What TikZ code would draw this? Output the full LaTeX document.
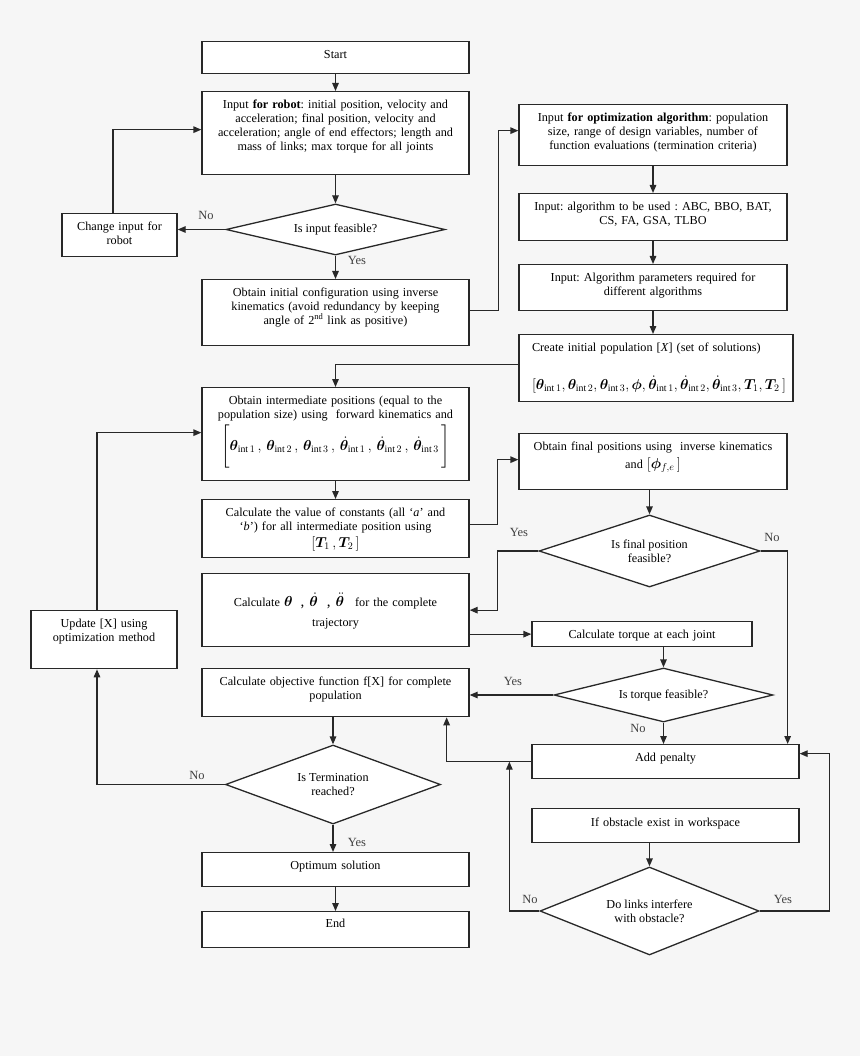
\documentclass[tikz,border=0pt]{standalone}
\usepackage{amsmath}
\usepackage{bm}
\usepackage{fontspec}
\setmainfont{Liberation Serif}
\usetikzlibrary{shapes.geometric,arrows.meta}
\definecolor{bgcol}{RGB}{246,246,246}
\definecolor{linecol}{RGB}{40,40,40}
\newcommand{\thint}[1]{\bm{\theta}_{\mathrm{int}\,#1}}
\newcommand{\dthint}[1]{\dot{\bm{\theta}}_{\mathrm{int}\,#1}}
\newcommand{\mathsz}{\fontsize{14}{16}\selectfont}
\begin{document}
\begin{tikzpicture}[x=1pt,y=-1pt,font={\fontsize{12.2}{13.8}\selectfont\frenchspacing}]
\fill[bgcol] (0,0) rectangle (860,1056);
\useasboundingbox (0,0) rectangle (860,1056);
% boxes
\begin{scope}[every node/.style={draw=linecol, fill=white, line width=1.3pt, align=center, anchor=north, inner xsep=4pt, inner ysep=0pt, text height=17pt}]
\node[text width=259pt, text depth=15pt] (start) at (335.5,41) {Start};
\node[text width=259pt, text depth=66pt] (robot) at (335.5,91) {Input \textbf{for robot}: initial position, velocity and\\ acceleration; final position, velocity and\\ acceleration; angle of end effectors; length and\\ mass of links; max torque for all joints};
\node[text width=107pt, text depth=26pt] (change) at (119.5,213) {Change input for\\ robot};
\node[text width=259pt, text depth=49pt] (initcfg) at (335.5,279) {Obtain initial configuration using inverse\\ kinematics (avoid redundancy by keeping\\ angle of 2\textsuperscript{nd} link as positive)};
\node[text width=260pt, text depth=44pt] (opt) at (653,104) {Input \textbf{for optimization algorithm}: population\\ size, range of design variables, number of\\ function evaluations (termination criteria)};
\node[text width=260pt, text depth=30pt] (algo) at (653,193) {Input: algorithm to be used : ABC, BBO, BAT,\\ CS, FA, GSA, TLBO};
\node[text width=260pt, text depth=29pt] (param) at (653,264) {Input: Algorithm parameters required for\\ different algorithms};
\node[text width=248pt, inner xsep=13pt, align=left, text depth=50pt] (create) at (656,334) {Create initial population [\textit{X}] (set of solutions)\\[21pt] {\mathsz$[\thint1, \thint2, \thint3, \bm{\phi}, \dthint1, \dthint2, \dthint3, \bm{T}_1, \bm{T}_2\,]$}};
\node[text width=259pt, text depth=76pt] (inter) at (335.5,387) {Obtain intermediate positions (equal to the\\ population size) using\ \ forward kinematics and\\[3pt] {\mathsz$\left[\rule[-16pt]{0pt}{38pt}\thint1\,,\, \thint2\,,\, \thint3\,,\, \dthint1\,,\, \dthint2\,,\, \dthint3\,\right]$}};
\node[text width=259pt, text depth=41pt] (const) at (335.5,499) {Calculate the value of constants (all `\textit{a}' and\\ `\textit{b}') for all intermediate position using\\[3pt] {\mathsz$[\bm{T}_1\,, \bm{T}_2\,]$}};
\node[text width=259pt, text height=33pt, text depth=40pt] (theta) at (335.5,573) {Calculate\ {\fontsize{15}{17}\selectfont$\bm{\theta}$\hspace{8pt},\hspace{5pt}$\dot{\bm{\theta}}$\hspace{9pt},\hspace{5pt}$\ddot{\bm{\theta}}$}\hspace{11pt}for the complete\\[6pt] trajectory};
\node[text width=260pt, text depth=39pt] (fin) at (653,433) {Obtain final positions using\ \ inverse kinematics\\[4pt] and {\mathsz$[\bm{\phi}_{f,e}\,]$}};
\node[text width=212pt, text depth=8pt] (torque) at (642,621) {Calculate torque at each joint};
\node[text width=138pt, text depth=41pt] (upd) at (104,610) {Update [X] using\\ optimization method};
\node[text width=259pt, text depth=31pt] (obj) at (335.5,668) {Calculate objective function f[X] for complete\\ population};
\node[text width=259pt, text depth=17pt] (pen) at (665.5,744) {Add penalty};
\node[text width=259pt, text height=18pt, text depth=16pt] (obst) at (665.5,808) {If obstacle exist in workspace};
\node[text width=259pt, text depth=17pt] (optim) at (335.5,852) {Optimum solution};
\node[text width=259pt, text height=16pt, text depth=20pt] (finish) at (335.5,911) {End};
\end{scope}
% decisions
\begin{scope}[every node/.style={draw=linecol, fill=white, line width=1.3pt, diamond, aspect=3, inner sep=0pt, align=center}]
\node[minimum width=219pt, minimum height=51pt] (feas) at (335.5,229.5) {Is input feasible?};
\node[minimum width=221pt, minimum height=72pt] (finq) at (649.5,551) {Is final position\\ feasible?};
\node[minimum width=219pt, minimum height=54pt] (torq) at (663.5,695) {Is torque feasible?};
\node[minimum width=215pt, minimum height=79pt] (term) at (333,784.5) {Is Termination\\ reached?};
\node[minimum width=219pt, minimum height=88pt] (links) at (649.5,911) {Do links interfere\\ with obstacle?};
\end{scope}
% connectors
\begin{scope}[color=linecol, line width=1.3pt, >={Triangle[length=8pt,width=6.5pt]}]
\draw[->] (start.south) -- (robot.north);
\draw[->] (robot.south) -- (feas.north);
\draw[->] (feas.west) -- (feas.west -| change.east);
\draw[->] ([xshift=-6.5pt]change.north) |- ([yshift=3.5pt]robot.west);
\draw[->] (feas.south) -- (initcfg.north);
\draw[->] ([yshift=2pt]initcfg.east) -- ++(29,0) |- ([yshift=4.5pt]opt.west);
\draw[->] (opt.south) -- (algo.north);
\draw[->] (algo.south) -- (param.north);
\draw[->] (param.south) -- (param.south |- create.north);
\draw[->] ([yshift=3.5pt]create.west) -| (inter.north);
\draw[->] (inter.south) -- (const.north);
\draw[->] ([yshift=4pt]const.east) -- ++(28,0) |- ([yshift=2pt]fin.west);
\draw[->] (finq.north |- fin.south) -- (finq.north);
\draw[->] (finq.west) -- ++(-41,0) |- (theta.east);
\draw[->] (finq.east) -| ([xshift=-12pt]pen.north east);
\draw[->] (torque.west -| theta.east) -- (torque.west);
\draw[->] (torq.north |- torque.south) -- (torq.north);
\draw[->] (torq.west) -- (torq.west -| obj.east);
\draw[->] (torq.south) -- (torq.south |- pen.north);
\draw[->] (pen.west) -| ([xshift=-23pt]obj.south east);
\draw[->] (obst.south -| links.north) -- (links.north);
\draw[->] (links.west) -| ([xshift=-22pt]pen.west);
\draw[->] (links.east) -- ++(70,0) |- ([yshift=8pt]pen.east);
\draw[->] (term.north |- obj.south) -- (term.north);
\draw[->] (term.west) -| ([xshift=-7pt]upd.south);
\draw[->] ([xshift=-7pt]upd.north) |- ([yshift=1.5pt]inter.west);
\draw[->] (term.south) -- (term.south |- optim.north);
\draw[->] (optim.south) -- (finish.north);
\end{scope}
% branch labels
\begin{scope}[every node/.style={font={\fontsize{12.5}{14}\selectfont}, text=black!75}]
\node (no1) at (206,215) {No};
\node (yes1) at (357,260) {Yes};
\node (yes2) at (519,532) {Yes};
\node (no2) at (772,537) {No};
\node (yes3) at (513,681) {Yes};
\node (no3) at (638,728) {No};
\node (no4) at (197,775) {No};
\node (yes4) at (357,842) {Yes};
\node (no5) at (530,899) {No};
\node (yes5) at (783,899) {Yes};
\end{scope}
\end{tikzpicture}
\end{document}
